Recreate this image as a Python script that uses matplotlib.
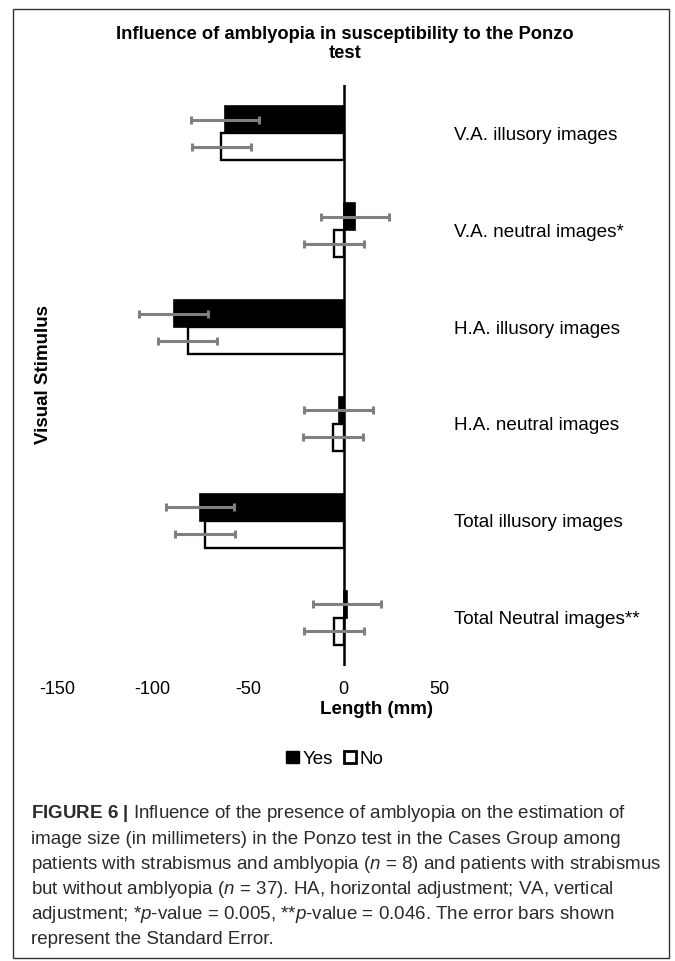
import numpy as np
import matplotlib
matplotlib.use("Agg")
import matplotlib.pyplot as plt
from matplotlib.patches import Patch, Rectangle

# data
categories = ["V.A. illusory images", "V.A. neutral images*", "H.A. illusory images",
              "H.A. neutral images", "Total illusory images", "Total Neutral images**"]
yes_vals = [-62, 6, -89, -2.5, -75, 2]
no_vals = [-64, -5, -81.5, -5.5, -72.5, -5]
yes_se = [18, 18, 18, 18, 17.8, 17.8]
no_se = [15.4, 15.7, 15.5, 15.7, 15.7, 15.7]
x_ticks = [-150, -100, -50, 0, 50]

caption_lines = [
    r"$\mathbf{FIGURE\ 6\ |}$ Influence of the presence of amblyopia on the estimation of",
    "image size (in millimeters) in the Ponzo test in the Cases Group among",
    r"patients with strabismus and amblyopia ($\mathit{n}$ = 8) and patients with strabismus",
    r"but without amblyopia ($\mathit{n}$ = 37). HA, horizontal adjustment; VA, vertical",
    r"adjustment; *$\mathit{p}$-value = 0.005, **$\mathit{p}$-value = 0.046. The error bars shown",
    "represent the Standard Error.",
]

plt.rcParams['font.family'] = ['Liberation Sans', 'DejaVu Sans']
plt.rcParams['mathtext.fontset'] = 'custom'
plt.rcParams['mathtext.rm'] = 'Liberation Sans'
plt.rcParams['mathtext.it'] = 'Liberation Sans:italic'
plt.rcParams['mathtext.bf'] = 'Liberation Sans:bold'

W, H = 675, 961
fig = plt.figure(figsize=(W / 100, H / 100), dpi=100)

def fx(px):
    return px / W

def fy(py):
    return 1 - py / H

# plot area
ax = fig.add_axes([fx(57), fy(666), fx(439) - fx(57), fy(85) - fy(666)])

y = np.arange(len(categories))
h = 0.278

ax.barh(y - h / 2, yes_vals, height=h, color="black", edgecolor="black", lw=1.2, zorder=2)
ax.barh(y + h / 2, no_vals, height=h, color="white", edgecolor="black", lw=1.7, zorder=2)

ax.errorbar(yes_vals, y - h / 2, xerr=yes_se, fmt="none", ecolor="#808080",
            elinewidth=2.2, capsize=3, capthick=2.2, zorder=4)
ax.errorbar(no_vals, y + h / 2, xerr=no_se, fmt="none", ecolor="#808080",
            elinewidth=2.2, capsize=3, capthick=2.2, zorder=4)

ax.axvline(0, color="black", lw=1.8, zorder=3)

ax.set_xlim(-150, 50)
ax.set_ylim(len(categories) - 0.5, -0.5)
ax.set_xticks(x_ticks)
ax.set_xticklabels([str(t) for t in x_ticks], fontsize=13)
ax.tick_params(axis="x", length=0, pad=11)

ax.yaxis.tick_right()
ax.set_yticks(y)
ax.set_yticklabels(categories, fontsize=13.6)
ax.tick_params(axis="y", length=0, pad=11)

for s in ax.spines.values():
    s.set_visible(False)

# titles and axis labels
fig.text(fx(345), fy(44), "Influence of amblyopia in susceptibility to the Ponzo\ntest",
         ha="center", va="center", fontsize=13.25, fontweight="bold", linespacing=1.2)
fig.text(fx(377), fy(709), "Length (mm)", ha="center", va="center",
         fontsize=13.5, fontweight="bold")
fig.text(fx(44), fy(375), "Visual Stimulus", ha="center", va="center",
         rotation=90, fontsize=13.5, fontweight="bold")

# legend
handles = [Patch(facecolor="black", edgecolor="black"),
           Patch(facecolor="white", edgecolor="black", lw=2)]
fig.legend(handles, ["Yes", "No"], loc="center", bbox_to_anchor=(fx(335), fy(759)),
           ncol=2, frameon=False, fontsize=13.5, handlelength=0.65, handleheight=0.65,
           handletextpad=0.2, columnspacing=0.6)

# caption
for i, line in enumerate(caption_lines):
    fig.text(fx(31), fy(814 + i * 25.2), line, ha="left", va="center",
             fontsize=13.5, color="#2b2b2b")

# outer frame
fig.add_artist(Rectangle((fx(13), fy(958)), fx(669) - fx(13), fy(9) - fy(958),
                         transform=fig.transFigure, fill=False, lw=1, ec="#333333"))

fig.savefig("out.png", dpi=100)
